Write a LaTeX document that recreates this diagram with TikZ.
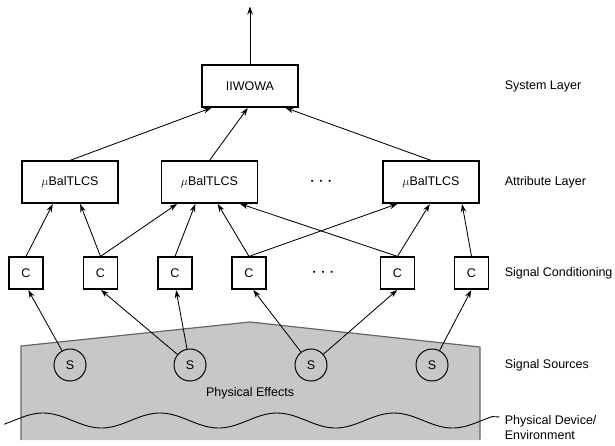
\documentclass[tikz,border=0pt]{standalone}
\usepackage{fontspec}
\setmainfont{Liberation Sans}
\usetikzlibrary{arrows.meta,shapes}

\begin{document}
\begin{tikzpicture}[x=1pt,y=-1pt,>={Stealth[length=8pt,width=5.5pt,inset=2.5pt]},shorten >=0.5pt,line width=0.85pt,
    font=\fontsize{12.5pt}{15pt}\selectfont]
  \tikzset{block/.style={draw,line width=1.2pt,rectangle,minimum width=96pt,minimum height=42pt,inner sep=0pt},
           cond/.style={draw,line width=1.2pt,rectangle,minimum width=34pt,minimum height=32pt,inner sep=0pt},
           sensor/.style={draw,line width=1pt,circle,minimum size=32pt,inner sep=0pt},
           dotsnode/.style={font=\fontsize{20pt}{20pt}\selectfont},
           layer/.style={anchor=west,align=left}}
  \useasboundingbox (0,0) rectangle (615,445);
  % physical part
  \fill[black!22] (21,440) -- (21,346) -- (250,322) -- (480,347) -- (480,440) -- cycle;
  \draw[black!60,line width=1.2pt] (21,440) -- (21,346) -- (250,322) -- (480,347) -- (480,440);
  \node (eff) at (250,393) {Physical Effects};
  \coordinate (wend) at (500,417);
  \draw[line width=0.9pt] plot[domain=4:492,smooth,samples=80] (\x,{420.5-7.5*cos((\x-43)/117*360)}) -- (wend);
  % nodes
  \node[block] (iiwowa) at (250,86) {IIWOWA};
  \coordinate (out) at (250,6);
  \node[block] (b1) at (70,182) {$\mu$BalTLCS};
  \node[block] (b2) at (209.5,182) {$\mu$BalTLCS};
  \node[dotsnode] (bdots) at (321,182) {$\cdot$\hspace{3pt}$\cdot$\hspace{3pt}$\cdot$};
  \node[block] (b3) at (431,182) {$\mu$BalTLCS};
  \node[cond] (c1) at (26,273) {C};
  \node[cond] (c2) at (100.5,273) {C};
  \node[cond] (c3) at (175,273) {C};
  \node[cond] (c4) at (249,273) {C};
  \node[dotsnode] (cdots) at (323,273) {$\cdot$\hspace{3pt}$\cdot$\hspace{3pt}$\cdot$};
  \node[cond] (c5) at (397.5,273) {C};
  \node[cond] (c6) at (471.5,273) {C};
  \node[sensor] (s1) at (70,365) {S};
  \node[sensor] (s2) at (190,365) {S};
  \node[sensor] (s3) at (311,365) {S};
  \node[sensor] (s4) at (432,365) {S};
  % layer names
  \node[layer] (sys) at (501,86) {System Layer};
  \node[layer] (att) at (501,182) {Attribute Layer};
  \node[layer] (sig) at (501,273) {Signal Conditioning};
  \node[layer] (src) at (501,365) {Signal Sources};
  \node[layer] (dev) at (501,428) {Physical Device/\\Environment};
  % connections
  \path[->] (iiwowa) edge (out);
  \path[->] (b1.north) edge ([xshift=-38pt]iiwowa.south);
  \path[->] (b2.north) edge ([xshift=-2pt]iiwowa.south);
  \path[->] (b3.north) edge ([xshift=35pt]iiwowa.south);
  \path[->] (c1.north) edge ([xshift=-17pt]b1.south);
  \path[->] (c2.north) edge ([xshift=10pt]b1.south);
  \path[->] (c2.north) edge ([xshift=-32pt]b2.south);
  \path[->] (c3.north) edge ([xshift=-14pt]b2.south);
  \path[->] (c4.north) edge ([xshift=8pt]b2.south);
  \path[->] (c5.north) edge ([xshift=30pt]b2.south);
  \path[->] (c4.north) edge ([xshift=-33pt]b3.south);
  \path[->] (c5.north) edge ([xshift=-1pt]b3.south);
  \path[->] (c6.north) edge ([xshift=31pt]b3.south);
  \path[->] (s1) edge ([xshift=2pt]c1.south);
  \path[->] (s2) edge (c2.south);
  \path[->] (s2) edge ([xshift=1pt]c3.south);
  \path[->] (s3) edge ([xshift=4pt]c4.south);
  \path[->] (s3) edge (c5.south);
  \path[->] (s4) edge (c6.south);
\end{tikzpicture}
\end{document}
